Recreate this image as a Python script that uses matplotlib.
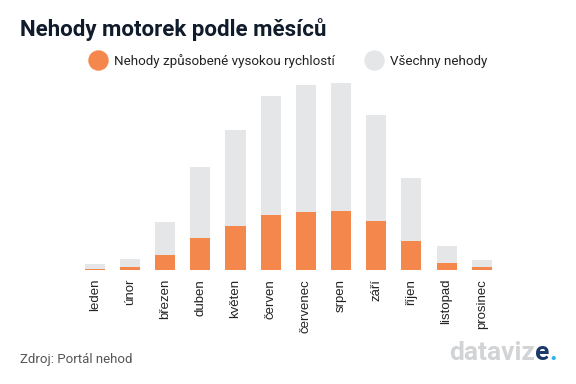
import numpy as np
import matplotlib.pyplot as plt
from matplotlib.lines import Line2D
from matplotlib.offsetbox import TextArea, HPacker, AnnotationBbox

# data
months = ['leden', 'únor', 'březen', 'duben', 'květen', 'červen',
          'červenec', 'srpen', 'září', 'říjen', 'listopad', 'prosinec']
all_accidents = [60, 110, 480, 1030, 1407, 1747, 1853, 1870, 1557, 923, 243, 100]
speed_accidents = [17, 33, 150, 327, 443, 550, 583, 590, 490, 290, 73, 30]

orange = '#F4874B'
grey = '#E5E6E8'
navy = '#101B2B'

fig = plt.figure(figsize=(5.76, 3.84), dpi=100)
ax = fig.add_axes([0.134, 0.2956, 0.733, 0.4874])

x = np.arange(len(months))
ax.bar(x, all_accidents, width=0.57, color=grey, zorder=1)
ax.bar(x, speed_accidents, width=0.57, color=orange, zorder=2)

ax.set_xlim(-0.5, len(months) - 0.5)
ax.set_ylim(0, 1870)
ax.set_xticks(x)
ax.set_xticklabels(months, rotation=90, fontsize=9.5, family='Liberation Sans', color='#222222')
ax.tick_params(axis='x', length=0, pad=6)
ax.set_yticks([])
for s in ax.spines.values():
    s.set_visible(False)

# title
fig.text(0.035, 0.905, 'Nehody motorek podle měsíců', fontsize=16, fontweight='bold',
         family='Roboto', color=navy, va='baseline')

# legend
handles = [Line2D([], [], marker='o', linestyle='', markersize=13.7, color=orange),
           Line2D([], [], marker='o', linestyle='', markersize=13.7, color=grey)]
fig.legend(handles, ['Nehody způsobené vysokou rychlostí', 'Všechny nehody'],
           loc='center', bbox_to_anchor=(0.5, 0.841), ncol=2, frameon=False,
           prop={'family': 'Roboto', 'size': 9.6}, handletextpad=0.45, columnspacing=2.3,
           handlelength=1.4, labelcolor='#222222', borderpad=0)

# source
fig.text(0.035, 0.055, 'Zdroj: Portál nehod', fontsize=9.5, family='Roboto', color='#555555')

# logo
logo_font = dict(family='Roboto', fontweight='bold', fontsize=19)
parts = [TextArea('dataviz', textprops=dict(color='#D2D3D5', **logo_font)),
         TextArea('e', textprops=dict(color='#1B3A6B', **logo_font)),
         TextArea('.', textprops=dict(color='#2BB5E8', **logo_font))]
logo = HPacker(children=parts, sep=0, pad=0, align='baseline')
ab = AnnotationBbox(logo, (0.968, 0.05), xycoords='figure fraction', box_alignment=(1, 0),
                    frameon=False)
fig.add_artist(ab)

fig.savefig('out.png', dpi=100)
